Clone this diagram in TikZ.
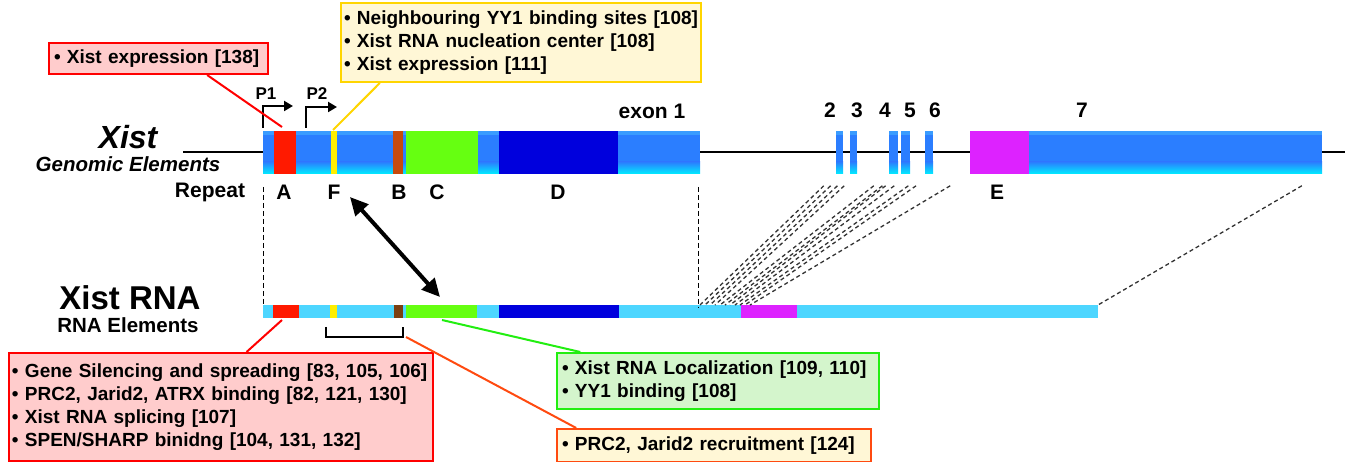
\documentclass[tikz,border=0pt]{standalone}
\usepackage{fontspec}
\setmainfont{Liberation Sans}
\usetikzlibrary{arrows.meta,calc}
\definecolor{exblue}{HTML}{2B7EFF}
\definecolor{exlight}{HTML}{3A9CFF}
\definecolor{excyan}{HTML}{00EEFF}
\definecolor{rnablue}{HTML}{4DD6FF}
\definecolor{rpA}{HTML}{FF1A00}
\definecolor{rpF}{HTML}{FFEE00}
\definecolor{rpB}{HTML}{C84A0C}
\definecolor{rnaB}{HTML}{7B3F12}
\definecolor{rpC}{HTML}{66FF11}
\definecolor{rpD}{HTML}{0000DD}
\definecolor{rpE}{HTML}{DD22FF}
\definecolor{pinkfill}{HTML}{FFCCCC}
\definecolor{creamfill}{HTML}{FFF7D6}
\definecolor{greenfill}{HTML}{D4F5CC}
\definecolor{goldline}{HTML}{FFD500}
\definecolor{orangeline}{HTML}{FF4A10}
\definecolor{greenline}{HTML}{22EE11}
\begin{document}
\begin{tikzpicture}[x=1pt,y=-1pt,
note/.style={%
draw,
line width=2pt,
anchor=north west,
align=left,
inner xsep=5pt,
inner ysep=0pt,
font=\bfseries\fontsize{19}{22.8}\selectfont,
},
lbl/.style={%
font=\bfseries\fontsize{21}{24}\selectfont,
inner sep=0pt,
},
prom/.style={%
line width=2pt,
-{Triangle[length=9pt,width=10pt]},
},
splice/.style={%
line width=1.3pt,
black!80,
dash pattern=on 4pt off 3pt,
},
guide/.style={%
line width=1pt,
dash pattern=on 5pt off 3pt,
},
callout/.style={%
line width=2pt,
},
]
\useasboundingbox (0,0) rectangle (1355,462);
%% Gene
\draw[line width=2pt] (183,152)--(1345,152);
\foreach \a/\b in {263/700,836/843,850/857,889/898,901/910,925/933,970/1322}{%
\fill[exblue] (\a,131) rectangle (\b,174);
\fill[exlight] (\a,131) rectangle (\b,135);
\shade[top color=exblue,bottom color=excyan] (\a,162) rectangle (\b,174);
}
\foreach \a/\b/\c in {274/296/rpA,331/337/rpF,393/403/rpB,406/478/rpC,499/618/rpD,970/1029/rpE}{%
\fill[\c] (\a,131) rectangle (\b,174);
}
\node[font=\bfseries\itshape\fontsize{32}{32}\selectfont] (xist) at (128,137) {Xist};
\node[font=\bfseries\itshape\fontsize{20.5}{20.5}\selectfont] (genomic) at (128,164) {Genomic Elements};
%% Promoters
\node[font=\bfseries\fontsize{17}{17}\selectfont] (p1) at (266,94) {P1};
\node[font=\bfseries\fontsize{17}{17}\selectfont] (p2) at (317,94) {P2};
\draw[prom] (263,128) |- (293,106);
\draw[prom] (306,128) |- (337,107);
%% Exon numbers
\node[lbl] (ex1) at (652,111) {exon 1};
\foreach \x/\n in {830/2,857/3,885/4,910/5,935/6,1082/7}{%
\node[lbl] (ex\n) at (\x,110) {\n};
}
%% Repeats
\node[lbl] (repeat) at (210,192) {Repeat};
\foreach \x/\n in {284/A,334/F,399/B,437/C,558/D,997/E}{%
\node[lbl] (rep\n) at (\x,192) {\n};
}
%% RNA
\fill[rnablue] (263,305) rectangle (1098,318);
\foreach \a/\b/\c in {273/299/rpA,330/337/rpF,394/403/rnaB,406/477/rpC,499/619/rpD,741/797/rpE}{%
\fill[\c] (\a,305) rectangle (\b,318);
}
\node[font=\bfseries\fontsize{33}{33}\selectfont] (xistrna) at (130,298) {Xist RNA};
\node[font=\bfseries\fontsize{20.5}{20.5}\selectfont] (rnael) at (128,325) {RNA Elements};
%% Splicing
\draw[guide] (263,187)--(263,305);
\draw[guide] (698,187)--(698,308);
\foreach \g/\r in {836/700,843/705,850/710,857/715,889/720,898/725,901/730,910/735,925/740,933/745,970/750,1322/1098}{%
\draw[splice] ($(\g,174)!0.09!(\r,305)$)--(\r,305);
}
\coordinate (arrF) at (350,197);
\coordinate (arrC) at (440,297);
\draw[line width=4pt,{Triangle[length=18pt,width=17pt]}-{Triangle[length=18pt,width=17pt]}] (arrF)--(arrC);
%% Bracket
\coordinate (brL) at (326,327);
\coordinate (brR) at (403,327);
\draw[line width=2pt] (brL)--++(0,10)-|(brR);
%% Notes
\node[note,draw=red,fill=pinkfill,text width=209pt,minimum height=31pt] (n138) at (48,42) {• Xist expression [138]};
\node[note,draw=goldline,fill=creamfill,inner xsep=3pt,text width=354pt,minimum height=79pt] (nyy1) at (340,2) {• Neighbouring YY1 binding sites [108]\\• Xist RNA nucleation center [108]\\• Xist expression [111]};
\node[note,draw=red,fill=pinkfill,inner xsep=3pt,text width=418pt,minimum height=108pt] (nsil) at (8,352) {• Gene Silencing and spreading [83, 105, 106]\\• PRC2, Jarid2, ATRX binding [82, 121, 130]\\• Xist RNA splicing [107]\\• SPEN/SHARP binidng [104, 131, 132]};
\node[note,draw=greenline,fill=greenfill,text width=312pt,minimum height=56pt] (nloc) at (556,352) {• Xist RNA Localization [109, 110]\\• YY1 binding [108]};
\node[note,draw=orangeline,fill=creamfill,text width=304pt,minimum height=33pt] (nprc) at (556,428) {• PRC2, Jarid2 recruitment [124]};
%% Callouts
\coordinate (gA) at (282,127);
\coordinate (gF) at (333,130);
\coordinate (rA) at (282,320);
\coordinate (rC) at (442,320);
\draw[callout,red] ($(n138.south west)!0.72!(n138.south east)$)--(gA);
\draw[callout,goldline] ($(nyy1.south west)!0.11!(nyy1.south east)$)--(gF);
\draw[callout,red] ($(nsil.north west)!0.56!(nsil.north east)$)--(rA);
\draw[callout,greenline] ($(nloc.north west)!0.075!(nloc.north east)$)--(rC);
\draw[callout,orangeline] ($(nprc.north west)!0.064!(nprc.north east)$)--($(brR)+(3,10)$);
\end{tikzpicture}
\end{document}
